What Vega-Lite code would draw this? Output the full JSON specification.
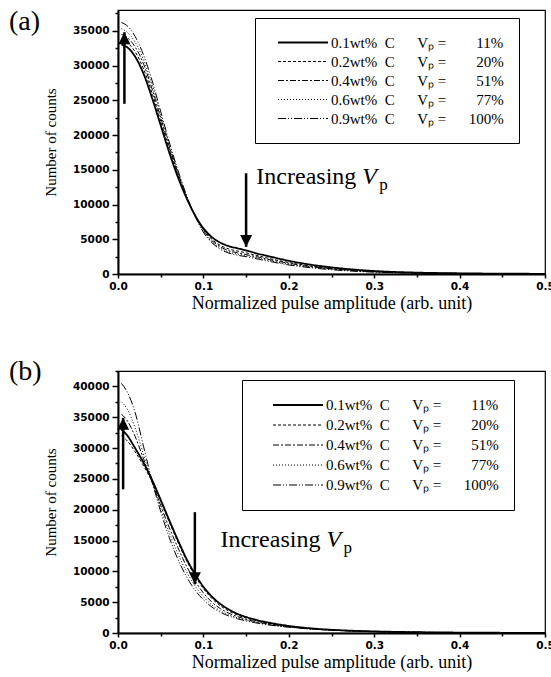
{
  "$schema": "https://vega.github.io/schema/vega-lite/v6.json",
  "padding": {"left": 8, "top": 7, "right": 4, "bottom": 4},
  "background": "white",
  "spacing": 43,
  "config": {
    "view": {"stroke": "black", "strokeWidth": 1.2},
    "axis": {
      "grid": false, "domainColor": "black", "domainWidth": 2, "tickColor": "black", "tickWidth": 1.5,
      "labelFont": "DejaVu Sans", "labelFontSize": 10.5, "labelFontWeight": "bold", "labelColor": "black",
      "labelFlush": false, "labelOverlap": false,
      "titleFont": "Liberation Serif", "titleFontWeight": "normal", "titleColor": "black"
    },
    "axisX": {"tickSize": 4, "labelPadding": 3, "titlePadding": 3, "titleFontSize": 18},
    "axisY": {"tickSize": 6, "labelPadding": 3, "titlePadding": 14, "titleFontSize": 15},
    "title": {"font": "Liberation Serif", "fontWeight": "normal", "color": "black"}
  },
  "resolve": {
    "scale": {"x": "independent", "y": "independent", "strokeDash": "independent", "strokeWidth": "independent", "shape": "independent"},
    "legend": {"strokeDash": "independent", "strokeWidth": "independent", "shape": "independent"}
  },
  "datasets": {
    "curvesA": [
      {"x":0.004,"y":33000,"c":"0.1"},{"x":0.01,"y":32700,"c":"0.1"},{"x":0.02,"y":31300,"c":"0.1"},{"x":0.03,"y":28800,"c":"0.1"},{"x":0.04,"y":25300,"c":"0.1"},{"x":0.05,"y":21400,"c":"0.1"},{"x":0.06,"y":17500,"c":"0.1"},{"x":0.07,"y":14000,"c":"0.1"},{"x":0.08,"y":11000,"c":"0.1"},{"x":0.09,"y":8500,"c":"0.1"},{"x":0.1,"y":6600,"c":"0.1"},{"x":0.11,"y":5300,"c":"0.1"},{"x":0.12,"y":4500,"c":"0.1"},{"x":0.13,"y":4000,"c":"0.1"},{"x":0.14,"y":3700,"c":"0.1"},{"x":0.15,"y":3400,"c":"0.1"},{"x":0.16,"y":3050,"c":"0.1"},{"x":0.18,"y":2450,"c":"0.1"},{"x":0.2,"y":1900,"c":"0.1"},{"x":0.22,"y":1450,"c":"0.1"},{"x":0.25,"y":950,"c":"0.1"},{"x":0.28,"y":600,"c":"0.1"},{"x":0.3,"y":430,"c":"0.1"},{"x":0.35,"y":200,"c":"0.1"},{"x":0.4,"y":100,"c":"0.1"},{"x":0.45,"y":50,"c":"0.1"},{"x":0.5,"y":25,"c":"0.1"},
      {"x":0.004,"y":33800,"c":"0.2"},{"x":0.01,"y":33400,"c":"0.2"},{"x":0.02,"y":32000,"c":"0.2"},{"x":0.03,"y":29500,"c":"0.2"},{"x":0.04,"y":26000,"c":"0.2"},{"x":0.05,"y":22000,"c":"0.2"},{"x":0.06,"y":18000,"c":"0.2"},{"x":0.07,"y":14300,"c":"0.2"},{"x":0.08,"y":11100,"c":"0.2"},{"x":0.09,"y":8500,"c":"0.2"},{"x":0.1,"y":6400,"c":"0.2"},{"x":0.11,"y":5000,"c":"0.2"},{"x":0.12,"y":4100,"c":"0.2"},{"x":0.13,"y":3600,"c":"0.2"},{"x":0.14,"y":3300,"c":"0.2"},{"x":0.15,"y":3050,"c":"0.2"},{"x":0.16,"y":2750,"c":"0.2"},{"x":0.18,"y":2150,"c":"0.2"},{"x":0.2,"y":1650,"c":"0.2"},{"x":0.22,"y":1250,"c":"0.2"},{"x":0.25,"y":800,"c":"0.2"},{"x":0.28,"y":500,"c":"0.2"},{"x":0.3,"y":360,"c":"0.2"},{"x":0.35,"y":170,"c":"0.2"},{"x":0.4,"y":85,"c":"0.2"},{"x":0.45,"y":40,"c":"0.2"},{"x":0.5,"y":20,"c":"0.2"},
      {"x":0.004,"y":34500,"c":"0.4"},{"x":0.01,"y":34100,"c":"0.4"},{"x":0.02,"y":32700,"c":"0.4"},{"x":0.03,"y":30200,"c":"0.4"},{"x":0.04,"y":26600,"c":"0.4"},{"x":0.05,"y":22500,"c":"0.4"},{"x":0.06,"y":18400,"c":"0.4"},{"x":0.07,"y":14600,"c":"0.4"},{"x":0.08,"y":11200,"c":"0.4"},{"x":0.09,"y":8500,"c":"0.4"},{"x":0.1,"y":6300,"c":"0.4"},{"x":0.11,"y":4800,"c":"0.4"},{"x":0.12,"y":3900,"c":"0.4"},{"x":0.13,"y":3350,"c":"0.4"},{"x":0.14,"y":3050,"c":"0.4"},{"x":0.15,"y":2800,"c":"0.4"},{"x":0.16,"y":2550,"c":"0.4"},{"x":0.18,"y":2000,"c":"0.4"},{"x":0.2,"y":1550,"c":"0.4"},{"x":0.22,"y":1150,"c":"0.4"},{"x":0.25,"y":750,"c":"0.4"},{"x":0.28,"y":460,"c":"0.4"},{"x":0.3,"y":330,"c":"0.4"},{"x":0.35,"y":150,"c":"0.4"},{"x":0.4,"y":75,"c":"0.4"},{"x":0.45,"y":35,"c":"0.4"},{"x":0.5,"y":18,"c":"0.4"},
      {"x":0.004,"y":35300,"c":"0.6"},{"x":0.01,"y":34900,"c":"0.6"},{"x":0.02,"y":33400,"c":"0.6"},{"x":0.03,"y":30800,"c":"0.6"},{"x":0.04,"y":27200,"c":"0.6"},{"x":0.05,"y":23000,"c":"0.6"},{"x":0.06,"y":18700,"c":"0.6"},{"x":0.07,"y":14800,"c":"0.6"},{"x":0.08,"y":11300,"c":"0.6"},{"x":0.09,"y":8400,"c":"0.6"},{"x":0.1,"y":6100,"c":"0.6"},{"x":0.11,"y":4600,"c":"0.6"},{"x":0.12,"y":3700,"c":"0.6"},{"x":0.13,"y":3150,"c":"0.6"},{"x":0.14,"y":2850,"c":"0.6"},{"x":0.15,"y":2650,"c":"0.6"},{"x":0.16,"y":2400,"c":"0.6"},{"x":0.18,"y":1850,"c":"0.6"},{"x":0.2,"y":1400,"c":"0.6"},{"x":0.22,"y":1050,"c":"0.6"},{"x":0.25,"y":680,"c":"0.6"},{"x":0.28,"y":420,"c":"0.6"},{"x":0.3,"y":300,"c":"0.6"},{"x":0.35,"y":140,"c":"0.6"},{"x":0.4,"y":70,"c":"0.6"},{"x":0.45,"y":30,"c":"0.6"},{"x":0.5,"y":15,"c":"0.6"},
      {"x":0.004,"y":36200,"c":"0.9"},{"x":0.01,"y":35800,"c":"0.9"},{"x":0.02,"y":34200,"c":"0.9"},{"x":0.03,"y":31500,"c":"0.9"},{"x":0.04,"y":27800,"c":"0.9"},{"x":0.05,"y":23400,"c":"0.9"},{"x":0.06,"y":19000,"c":"0.9"},{"x":0.07,"y":15000,"c":"0.9"},{"x":0.08,"y":11400,"c":"0.9"},{"x":0.09,"y":8400,"c":"0.9"},{"x":0.1,"y":6000,"c":"0.9"},{"x":0.11,"y":4500,"c":"0.9"},{"x":0.12,"y":3550,"c":"0.9"},{"x":0.13,"y":3000,"c":"0.9"},{"x":0.14,"y":2700,"c":"0.9"},{"x":0.15,"y":2500,"c":"0.9"},{"x":0.16,"y":2250,"c":"0.9"},{"x":0.18,"y":1750,"c":"0.9"},{"x":0.2,"y":1300,"c":"0.9"},{"x":0.22,"y":980,"c":"0.9"},{"x":0.25,"y":620,"c":"0.9"},{"x":0.28,"y":380,"c":"0.9"},{"x":0.3,"y":270,"c":"0.9"},{"x":0.35,"y":120,"c":"0.9"},{"x":0.4,"y":60,"c":"0.9"},{"x":0.45,"y":28,"c":"0.9"},{"x":0.5,"y":14,"c":"0.9"}
    ],
    "curvesB": [
      {"x":0.004,"y":33000,"c":"0.1"},{"x":0.01,"y":32200,"c":"0.1"},{"x":0.02,"y":30000,"c":"0.1"},{"x":0.03,"y":27600,"c":"0.1"},{"x":0.04,"y":24800,"c":"0.1"},{"x":0.05,"y":21600,"c":"0.1"},{"x":0.06,"y":18300,"c":"0.1"},{"x":0.07,"y":15100,"c":"0.1"},{"x":0.08,"y":12100,"c":"0.1"},{"x":0.09,"y":9600,"c":"0.1"},{"x":0.1,"y":7500,"c":"0.1"},{"x":0.11,"y":5900,"c":"0.1"},{"x":0.12,"y":4700,"c":"0.1"},{"x":0.13,"y":3800,"c":"0.1"},{"x":0.14,"y":3100,"c":"0.1"},{"x":0.15,"y":2600,"c":"0.1"},{"x":0.16,"y":2200,"c":"0.1"},{"x":0.18,"y":1600,"c":"0.1"},{"x":0.2,"y":1150,"c":"0.1"},{"x":0.22,"y":830,"c":"0.1"},{"x":0.25,"y":520,"c":"0.1"},{"x":0.28,"y":340,"c":"0.1"},{"x":0.3,"y":260,"c":"0.1"},{"x":0.35,"y":130,"c":"0.1"},{"x":0.4,"y":70,"c":"0.1"},{"x":0.45,"y":35,"c":"0.1"},{"x":0.5,"y":20,"c":"0.1"},
      {"x":0.004,"y":32000,"c":"0.2"},{"x":0.01,"y":31300,"c":"0.2"},{"x":0.02,"y":29400,"c":"0.2"},{"x":0.03,"y":27100,"c":"0.2"},{"x":0.04,"y":24500,"c":"0.2"},{"x":0.05,"y":21300,"c":"0.2"},{"x":0.06,"y":18000,"c":"0.2"},{"x":0.07,"y":14800,"c":"0.2"},{"x":0.08,"y":11800,"c":"0.2"},{"x":0.09,"y":9300,"c":"0.2"},{"x":0.1,"y":7200,"c":"0.2"},{"x":0.11,"y":5600,"c":"0.2"},{"x":0.12,"y":4400,"c":"0.2"},{"x":0.13,"y":3550,"c":"0.2"},{"x":0.14,"y":2900,"c":"0.2"},{"x":0.15,"y":2420,"c":"0.2"},{"x":0.16,"y":2030,"c":"0.2"},{"x":0.18,"y":1450,"c":"0.2"},{"x":0.2,"y":1060,"c":"0.2"},{"x":0.22,"y":770,"c":"0.2"},{"x":0.25,"y":490,"c":"0.2"},{"x":0.28,"y":320,"c":"0.2"},{"x":0.3,"y":240,"c":"0.2"},{"x":0.35,"y":125,"c":"0.2"},{"x":0.4,"y":65,"c":"0.2"},{"x":0.45,"y":32,"c":"0.2"},{"x":0.5,"y":18,"c":"0.2"},
      {"x":0.004,"y":35500,"c":"0.4"},{"x":0.01,"y":34600,"c":"0.4"},{"x":0.02,"y":31900,"c":"0.4"},{"x":0.03,"y":28200,"c":"0.4"},{"x":0.04,"y":24400,"c":"0.4"},{"x":0.05,"y":20700,"c":"0.4"},{"x":0.06,"y":17100,"c":"0.4"},{"x":0.07,"y":13900,"c":"0.4"},{"x":0.08,"y":10900,"c":"0.4"},{"x":0.09,"y":8500,"c":"0.4"},{"x":0.1,"y":6500,"c":"0.4"},{"x":0.11,"y":5000,"c":"0.4"},{"x":0.12,"y":3950,"c":"0.4"},{"x":0.13,"y":3200,"c":"0.4"},{"x":0.14,"y":2650,"c":"0.4"},{"x":0.15,"y":2230,"c":"0.4"},{"x":0.16,"y":1880,"c":"0.4"},{"x":0.18,"y":1370,"c":"0.4"},{"x":0.2,"y":1010,"c":"0.4"},{"x":0.22,"y":740,"c":"0.4"},{"x":0.25,"y":470,"c":"0.4"},{"x":0.28,"y":310,"c":"0.4"},{"x":0.3,"y":230,"c":"0.4"},{"x":0.35,"y":115,"c":"0.4"},{"x":0.4,"y":62,"c":"0.4"},{"x":0.45,"y":30,"c":"0.4"},{"x":0.5,"y":16,"c":"0.4"},
      {"x":0.004,"y":37500,"c":"0.6"},{"x":0.01,"y":36500,"c":"0.6"},{"x":0.02,"y":33300,"c":"0.6"},{"x":0.03,"y":28900,"c":"0.6"},{"x":0.04,"y":24500,"c":"0.6"},{"x":0.05,"y":20200,"c":"0.6"},{"x":0.06,"y":16300,"c":"0.6"},{"x":0.07,"y":12900,"c":"0.6"},{"x":0.08,"y":10000,"c":"0.6"},{"x":0.09,"y":7700,"c":"0.6"},{"x":0.1,"y":5900,"c":"0.6"},{"x":0.11,"y":4550,"c":"0.6"},{"x":0.12,"y":3600,"c":"0.6"},{"x":0.13,"y":2950,"c":"0.6"},{"x":0.14,"y":2450,"c":"0.6"},{"x":0.15,"y":2080,"c":"0.6"},{"x":0.16,"y":1770,"c":"0.6"},{"x":0.18,"y":1300,"c":"0.6"},{"x":0.2,"y":970,"c":"0.6"},{"x":0.22,"y":720,"c":"0.6"},{"x":0.25,"y":460,"c":"0.6"},{"x":0.28,"y":305,"c":"0.6"},{"x":0.3,"y":225,"c":"0.6"},{"x":0.35,"y":112,"c":"0.6"},{"x":0.4,"y":60,"c":"0.6"},{"x":0.45,"y":30,"c":"0.6"},{"x":0.5,"y":15,"c":"0.6"},
      {"x":0.004,"y":40500,"c":"0.9"},{"x":0.01,"y":39300,"c":"0.9"},{"x":0.02,"y":35800,"c":"0.9"},{"x":0.03,"y":30200,"c":"0.9"},{"x":0.04,"y":24600,"c":"0.9"},{"x":0.05,"y":19700,"c":"0.9"},{"x":0.06,"y":15500,"c":"0.9"},{"x":0.07,"y":12000,"c":"0.9"},{"x":0.08,"y":9200,"c":"0.9"},{"x":0.09,"y":7000,"c":"0.9"},{"x":0.1,"y":5400,"c":"0.9"},{"x":0.11,"y":4200,"c":"0.9"},{"x":0.12,"y":3350,"c":"0.9"},{"x":0.13,"y":2750,"c":"0.9"},{"x":0.14,"y":2300,"c":"0.9"},{"x":0.15,"y":1960,"c":"0.9"},{"x":0.16,"y":1680,"c":"0.9"},{"x":0.18,"y":1240,"c":"0.9"},{"x":0.2,"y":940,"c":"0.9"},{"x":0.22,"y":700,"c":"0.9"},{"x":0.25,"y":450,"c":"0.9"},{"x":0.28,"y":300,"c":"0.9"},{"x":0.3,"y":220,"c":"0.9"},{"x":0.35,"y":110,"c":"0.9"},{"x":0.4,"y":60,"c":"0.9"},{"x":0.45,"y":30,"c":"0.9"},{"x":0.5,"y":15,"c":"0.9"}
    ],
    "arrowsA": [
      {"x": 0.0075, "y": 24500, "y2": 34800, "dir": "up"},
      {"x": 0.15, "y": 14500, "y2": 3900, "dir": "down"}
    ],
    "arrowsB": [
      {"x": 0.006, "y": 23300, "y2": 34900, "dir": "up"},
      {"x": 0.09, "y": 19600, "y2": 7900, "dir": "down"}
    ],
    "noteA": [{"x": 0.162, "y": 12900}],
    "noteB": [{"x": 0.12, "y": 14000}]
  },
  "vconcat": [
    {
      "width": 427, "height": 264,
      "title": {"text": "(a)", "orient": "top", "anchor": "start", "frame": "group", "fontSize": 28, "baseline": "top", "offset": -26, "dx": -109},
      "resolve": {"axis": {"x": "independent", "y": "independent"}},
      "layer": [
        {
          "data": {"name": "curvesA"},
          "mark": {"type": "line", "interpolate": "monotone", "color": "black"},
          "encoding": {
            "x": {"field": "x", "type": "quantitative", "scale": {"domain": [0, 0.5], "nice": false},
                  "axis": {"values": [0, 0.1, 0.2, 0.3, 0.4, 0.5], "format": ".1f", "labelOverlap": false, "title": "Normalized pulse amplitude (arb. unit)"}},
            "y": {"field": "y", "type": "quantitative", "scale": {"domain": [0, 38000], "nice": false},
                  "axis": {"values": [0, 5000, 10000, 15000, 20000, 25000, 30000, 35000], "format": "d", "labelOverlap": false, "title": "Number of counts"}},
            "strokeDash": {"field": "c", "type": "nominal",
              "scale": {"domain": ["0.1", "0.2", "0.4", "0.6", "0.9"], "range": [[1, 0], [3, 2], [6, 2, 2, 2], [1, 2], [8, 2, 1, 2, 1, 2]]},
              "legend": {"orient": "none", "legendX": 137, "legendY": 8, "title": null, "strokeColor": "black", "fillColor": "white",
                "padding": 15, "symbolOffset": 7, "symbolType": "stroke", "symbolSize": 2500, "symbolStrokeColor": "black", "symbolStrokeWidth": 1,
                "labelFont": "Liberation Serif", "labelFontSize": 15, "labelColor": "black", "labelLimit": 400, "clipHeight": 19,
                "rowPadding": 0, "labelOffset": 2,
                "labelExpr": "datum.label + 'wt%\u00a0\u00a0C\u00a0\u00a0\u00a0\u00a0\u00a0\u00a0V\u209a\u00a0=' + (datum.label == '0.9' ? '\u00a0\u00a0\u00a0\u00a0\u00a0\u00a0100%' : datum.label == '0.1' ? '\u00a0\u00a0\u00a0\u00a0\u00a0\u00a0\u00a0\u00a011%' : datum.label == '0.2' ? '\u00a0\u00a0\u00a0\u00a0\u00a0\u00a0\u00a0\u00a020%' : datum.label == '0.4' ? '\u00a0\u00a0\u00a0\u00a0\u00a0\u00a0\u00a0\u00a051%' : '\u00a0\u00a0\u00a0\u00a0\u00a0\u00a0\u00a0\u00a077%') + '\u00a0\u00a0\u00a0\u00a0'"}},
            "strokeWidth": {"field": "c", "type": "nominal",
              "scale": {"type": "ordinal", "domain": ["0.1", "0.2", "0.4", "0.6", "0.9"], "range": [1.8, 1, 1, 1, 1]}}
          }
        },
        {
          "data": {"name": "arrowsA"},
          "mark": {"type": "rule", "color": "black", "strokeWidth": 2.5},
          "encoding": {
            "x": {"field": "x", "type": "quantitative", "axis": {"orient": "bottom", "values": [0.05, 0.15, 0.25, 0.35, 0.45], "labels": false, "domain": false, "tickSize": 3, "title": null}},
            "y": {"field": "y", "type": "quantitative", "axis": {"orient": "left", "values": [2500, 7500, 12500, 17500, 22500, 27500, 32500, 37500], "labels": false, "domain": false, "tickSize": 3, "title": null}},
            "y2": {"field": "y2"}}
        },
        {
          "data": {"name": "arrowsA"},
          "mark": {"type": "point", "filled": true, "color": "black", "opacity": 1, "size": 144, "strokeWidth": 0},
          "encoding": {"x": {"field": "x", "type": "quantitative", "axis": null}, "y": {"field": "y2", "type": "quantitative", "axis": null},
            "shape": {"field": "dir", "type": "nominal", "scale": {"domain": ["up", "down"], "range": ["M0,0L-1,2L1,2Z", "M0,0L-1,-2L1,-2Z"]}, "legend": null}}
        },
        {
          "data": {"name": "noteA"},
          "mark": {"type": "text", "text": "Increasing", "font": "Liberation Serif", "fontSize": 24, "align": "left", "baseline": "alphabetic", "color": "black"},
          "encoding": {"x": {"field": "x", "type": "quantitative", "axis": null}, "y": {"field": "y", "type": "quantitative", "axis": null}}
        },
        {
          "data": {"name": "noteA"},
          "mark": {"type": "text", "text": "V", "font": "Liberation Serif", "fontStyle": "italic", "fontSize": 24, "align": "left", "baseline": "alphabetic", "dx": 106, "color": "black"},
          "encoding": {"x": {"field": "x", "type": "quantitative", "axis": null}, "y": {"field": "y", "type": "quantitative", "axis": null}}
        },
        {
          "data": {"name": "noteA"},
          "mark": {"type": "text", "text": "p", "font": "Liberation Serif", "fontSize": 17, "align": "left", "baseline": "alphabetic", "dx": 123, "dy": 6, "color": "black"},
          "encoding": {"x": {"field": "x", "type": "quantitative", "axis": null}, "y": {"field": "y", "type": "quantitative", "axis": null}}
        }
      ]
    },
    {
      "width": 427, "height": 262,
      "title": {"text": "(b)", "orient": "top", "anchor": "start", "frame": "group", "fontSize": 28, "baseline": "top", "offset": -16, "dx": -109},
      "resolve": {"axis": {"x": "independent", "y": "independent"}},
      "layer": [
        {
          "data": {"name": "curvesB"},
          "mark": {"type": "line", "interpolate": "monotone", "color": "black"},
          "encoding": {
            "x": {"field": "x", "type": "quantitative", "scale": {"domain": [0, 0.5], "nice": false},
                  "axis": {"values": [0, 0.1, 0.2, 0.3, 0.4, 0.5], "format": ".1f", "labelOverlap": false, "title": "Normalized pulse amplitude (arb. unit)"}},
            "y": {"field": "y", "type": "quantitative", "scale": {"domain": [0, 42500], "nice": false},
                  "axis": {"values": [0, 5000, 10000, 15000, 20000, 25000, 30000, 35000, 40000], "format": "d", "labelOverlap": false, "title": "Number of counts"}},
            "strokeDash": {"field": "c", "type": "nominal",
              "scale": {"domain": ["0.1", "0.2", "0.4", "0.6", "0.9"], "range": [[1, 0], [3, 2], [6, 2, 2, 2], [1, 2], [8, 2, 1, 2, 1, 2]]},
              "legend": {"orient": "none", "legendX": 124, "legendY": 9, "title": null, "strokeColor": "black", "fillColor": "white",
                "padding": 15, "symbolOffset": 15, "symbolType": "stroke", "symbolSize": 2500, "symbolStrokeColor": "black", "symbolStrokeWidth": 1,
                "labelFont": "Liberation Serif", "labelFontSize": 15, "labelColor": "black", "labelLimit": 400, "clipHeight": 20,
                "rowPadding": 0, "labelOffset": 2,
                "labelExpr": "datum.label + 'wt%\u00a0\u00a0C\u00a0\u00a0\u00a0\u00a0\u00a0\u00a0V\u209a\u00a0=' + (datum.label == '0.9' ? '\u00a0\u00a0\u00a0\u00a0\u00a0\u00a0100%' : datum.label == '0.1' ? '\u00a0\u00a0\u00a0\u00a0\u00a0\u00a0\u00a0\u00a011%' : datum.label == '0.2' ? '\u00a0\u00a0\u00a0\u00a0\u00a0\u00a0\u00a0\u00a020%' : datum.label == '0.4' ? '\u00a0\u00a0\u00a0\u00a0\u00a0\u00a0\u00a0\u00a051%' : '\u00a0\u00a0\u00a0\u00a0\u00a0\u00a0\u00a0\u00a077%') + '\u00a0\u00a0\u00a0'"}},
            "strokeWidth": {"field": "c", "type": "nominal",
              "scale": {"type": "ordinal", "domain": ["0.1", "0.2", "0.4", "0.6", "0.9"], "range": [1.8, 1, 1, 1, 1]}}
          }
        },
        {
          "data": {"name": "arrowsB"},
          "mark": {"type": "rule", "color": "black", "strokeWidth": 2.5},
          "encoding": {
            "x": {"field": "x", "type": "quantitative", "axis": {"orient": "bottom", "values": [0.05, 0.15, 0.25, 0.35, 0.45], "labels": false, "domain": false, "tickSize": 3, "title": null}},
            "y": {"field": "y", "type": "quantitative", "axis": {"orient": "left", "values": [2500, 7500, 12500, 17500, 22500, 27500, 32500, 37500, 42500], "labels": false, "domain": false, "tickSize": 3, "title": null}},
            "y2": {"field": "y2"}}
        },
        {
          "data": {"name": "arrowsB"},
          "mark": {"type": "point", "filled": true, "color": "black", "opacity": 1, "size": 144, "strokeWidth": 0},
          "encoding": {"x": {"field": "x", "type": "quantitative", "axis": null}, "y": {"field": "y2", "type": "quantitative", "axis": null},
            "shape": {"field": "dir", "type": "nominal", "scale": {"domain": ["up", "down"], "range": ["M0,0L-1,2L1,2Z", "M0,0L-1,-2L1,-2Z"]}, "legend": null}}
        },
        {
          "data": {"name": "noteB"},
          "mark": {"type": "text", "text": "Increasing", "font": "Liberation Serif", "fontSize": 24, "align": "left", "baseline": "alphabetic", "color": "black"},
          "encoding": {"x": {"field": "x", "type": "quantitative", "axis": null}, "y": {"field": "y", "type": "quantitative", "axis": null}}
        },
        {
          "data": {"name": "noteB"},
          "mark": {"type": "text", "text": "V", "font": "Liberation Serif", "fontStyle": "italic", "fontSize": 24, "align": "left", "baseline": "alphabetic", "dx": 106, "color": "black"},
          "encoding": {"x": {"field": "x", "type": "quantitative", "axis": null}, "y": {"field": "y", "type": "quantitative", "axis": null}}
        },
        {
          "data": {"name": "noteB"},
          "mark": {"type": "text", "text": "p", "font": "Liberation Serif", "fontSize": 17, "align": "left", "baseline": "alphabetic", "dx": 123, "dy": 6, "color": "black"},
          "encoding": {"x": {"field": "x", "type": "quantitative", "axis": null}, "y": {"field": "y", "type": "quantitative", "axis": null}}
        }
      ]
    }
  ]
}
